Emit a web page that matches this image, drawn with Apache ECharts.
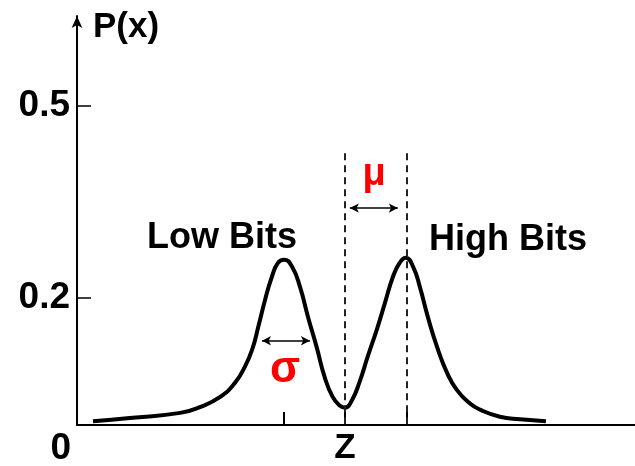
<!DOCTYPE html>
<html>
<head>
<meta charset="utf-8">
<script src="https://cdn.jsdelivr.net/npm/echarts@6/dist/echarts.min.js"></script>
<style>
html,body{margin:0;padding:0;background:#fff;}
#c{width:635px;height:466px;}
</style>
</head>
<body>
<div id="c"></div>
<script>
// Curve samples (x: Z = 0, peaks at -1 and +1; y: P(x))
var curveX = [-4.10,-3.50,-2.68,-2.36,-2.03,-1.79,-1.63,-1.51,-1.41,-1.30,-1.19,-1.09,-0.99,-0.86,-0.73,-0.60,-0.46,-0.33,-0.20,-0.08,0.00,0.11,0.24,0.37,0.52,0.65,0.78,0.89,0.99,1.11,1.22,1.35,1.50,1.66,1.82,2.03,2.20,2.52,2.85,3.27];
var curveY = [0.006,0.011,0.019,0.028,0.044,0.066,0.091,0.118,0.154,0.196,0.232,0.254,0.259,0.248,0.216,0.169,0.122,0.075,0.044,0.030,0.027,0.038,0.068,0.107,0.150,0.191,0.232,0.254,0.262,0.248,0.216,0.169,0.122,0.082,0.055,0.034,0.024,0.013,0.009,0.006];
var yTickValues = [0.2, 0.5];
var yTickLabels = ['0.2', '0.5'];
var xTickValues = [-1, 0, 1];
var xLabelValues = [0];
var xLabelText = ['Z'];
var dashX = [0, 1];          // Z and mu position
var dashTop = 0.426;
var muArrow = [0.08, 0.86, 0.340];     // x1, x2, y
var sigmaArrow = [-1.35, -0.57, 0.132];

var FONT = 'Liberation Sans, Arial, sans-serif';
var chart = echarts.init(document.getElementById('c'));
var pts = curveX.map(function (x, i) { return [x, curveY[i]]; });

chart.setOption({
  animation: false,
  backgroundColor: '#fff',
  grid: { left: 77, right: 0, top: 16, bottom: 41, containLabel: false, outerBoundsMode: 'none' },
  xAxis: {
    type: 'value', min: -4.36, max: 4.72,
    axisLine: { show: true, onZero: false, lineStyle: { color: '#000', width: 2 } },
    axisTick: { show: true, inside: true, length: 13, customValues: xTickValues, lineStyle: { color: '#000', width: 2 } },
    axisLabel: { show: true, customValues: xLabelValues, margin: 6,
      formatter: function (v) { var i = xLabelValues.indexOf(v); return i >= 0 ? xLabelText[i] : ''; },
      color: '#000', fontSize: 35, fontWeight: 'bold', fontFamily: FONT },
    splitLine: { show: false }
  },
  yAxis: {
    type: 'value', min: 0, max: 0.641,
    axisLine: { show: true, onZero: false, symbol: ['none', 'arrow'], symbolSize: [8, 12], lineStyle: { color: '#000', width: 2 } },
    axisTick: { show: true, inside: true, length: 14, customValues: yTickValues, lineStyle: { color: '#000', width: 1.5 } },
    axisLabel: { show: true, customValues: yTickValues, margin: 7,
      formatter: function (v) { var i = yTickValues.indexOf(v); return i >= 0 ? yTickLabels[i] : ''; },
      color: '#000', fontSize: 37, fontWeight: 'bold', fontFamily: FONT },
    splitLine: { show: false }
  },
  series: [{
    type: 'line', data: pts, smooth: 0.5, symbol: 'none',
    lineStyle: { color: '#000', width: 4 },
    z: 3,
    markLine: {
      silent: true, animation: false,
      label: { show: false },
      data: [
        [{ coord: [dashX[0], dashTop], symbol: 'none', lineStyle: { type: [7, 5], width: 2, color: '#222' } },
         { coord: [dashX[0], 0], symbol: 'none' }],
        [{ coord: [dashX[1], dashTop], symbol: 'none', lineStyle: { type: [7, 5], width: 2, color: '#222' } },
         { coord: [dashX[1], 0], symbol: 'none' }],
        [{ coord: [muArrow[0], muArrow[2]], symbol: 'arrow', symbolSize: [7, 9], lineStyle: { type: 'solid', width: 1.5, color: '#000' } },
         { coord: [muArrow[1], muArrow[2]], symbol: 'arrow', symbolSize: [7, 9] }],
        [{ coord: [sigmaArrow[0], sigmaArrow[2]], symbol: 'arrow', symbolSize: [7, 9], lineStyle: { type: 'solid', width: 1.5, color: '#000' } },
         { coord: [sigmaArrow[1], sigmaArrow[2]], symbol: 'arrow', symbolSize: [7, 9] }]
      ]
    }
  }],
  graphic: [
    { type: 'text', left: 93, top: 10, style: { text: 'P(x)', fill: '#000', font: 'bold 35px ' + FONT } },
    { type: 'text', right: 635 - 71, top: 430, style: { text: '0', fill: '#000', font: 'bold 37px ' + FONT } },
    { type: 'text', x: 222, y: 238, style: { text: 'Low Bits', fill: '#000', font: 'bold 36px ' + FONT, align: 'center', verticalAlign: 'middle' } },
    { type: 'text', x: 508, y: 240, style: { text: 'High Bits', fill: '#000', font: 'bold 36px ' + FONT, align: 'center', verticalAlign: 'middle' } },
    { type: 'text', x: 374, y: 175, style: { text: 'μ', fill: '#ff0000', font: 'bold 38px ' + FONT, align: 'center', verticalAlign: 'middle' } },
    { type: 'text', x: 285, y: 370, style: { text: 'σ', fill: '#ff0000', font: 'bold 44px ' + FONT, align: 'center', verticalAlign: 'middle' } }
  ]
});
</script>
</body>
</html>
